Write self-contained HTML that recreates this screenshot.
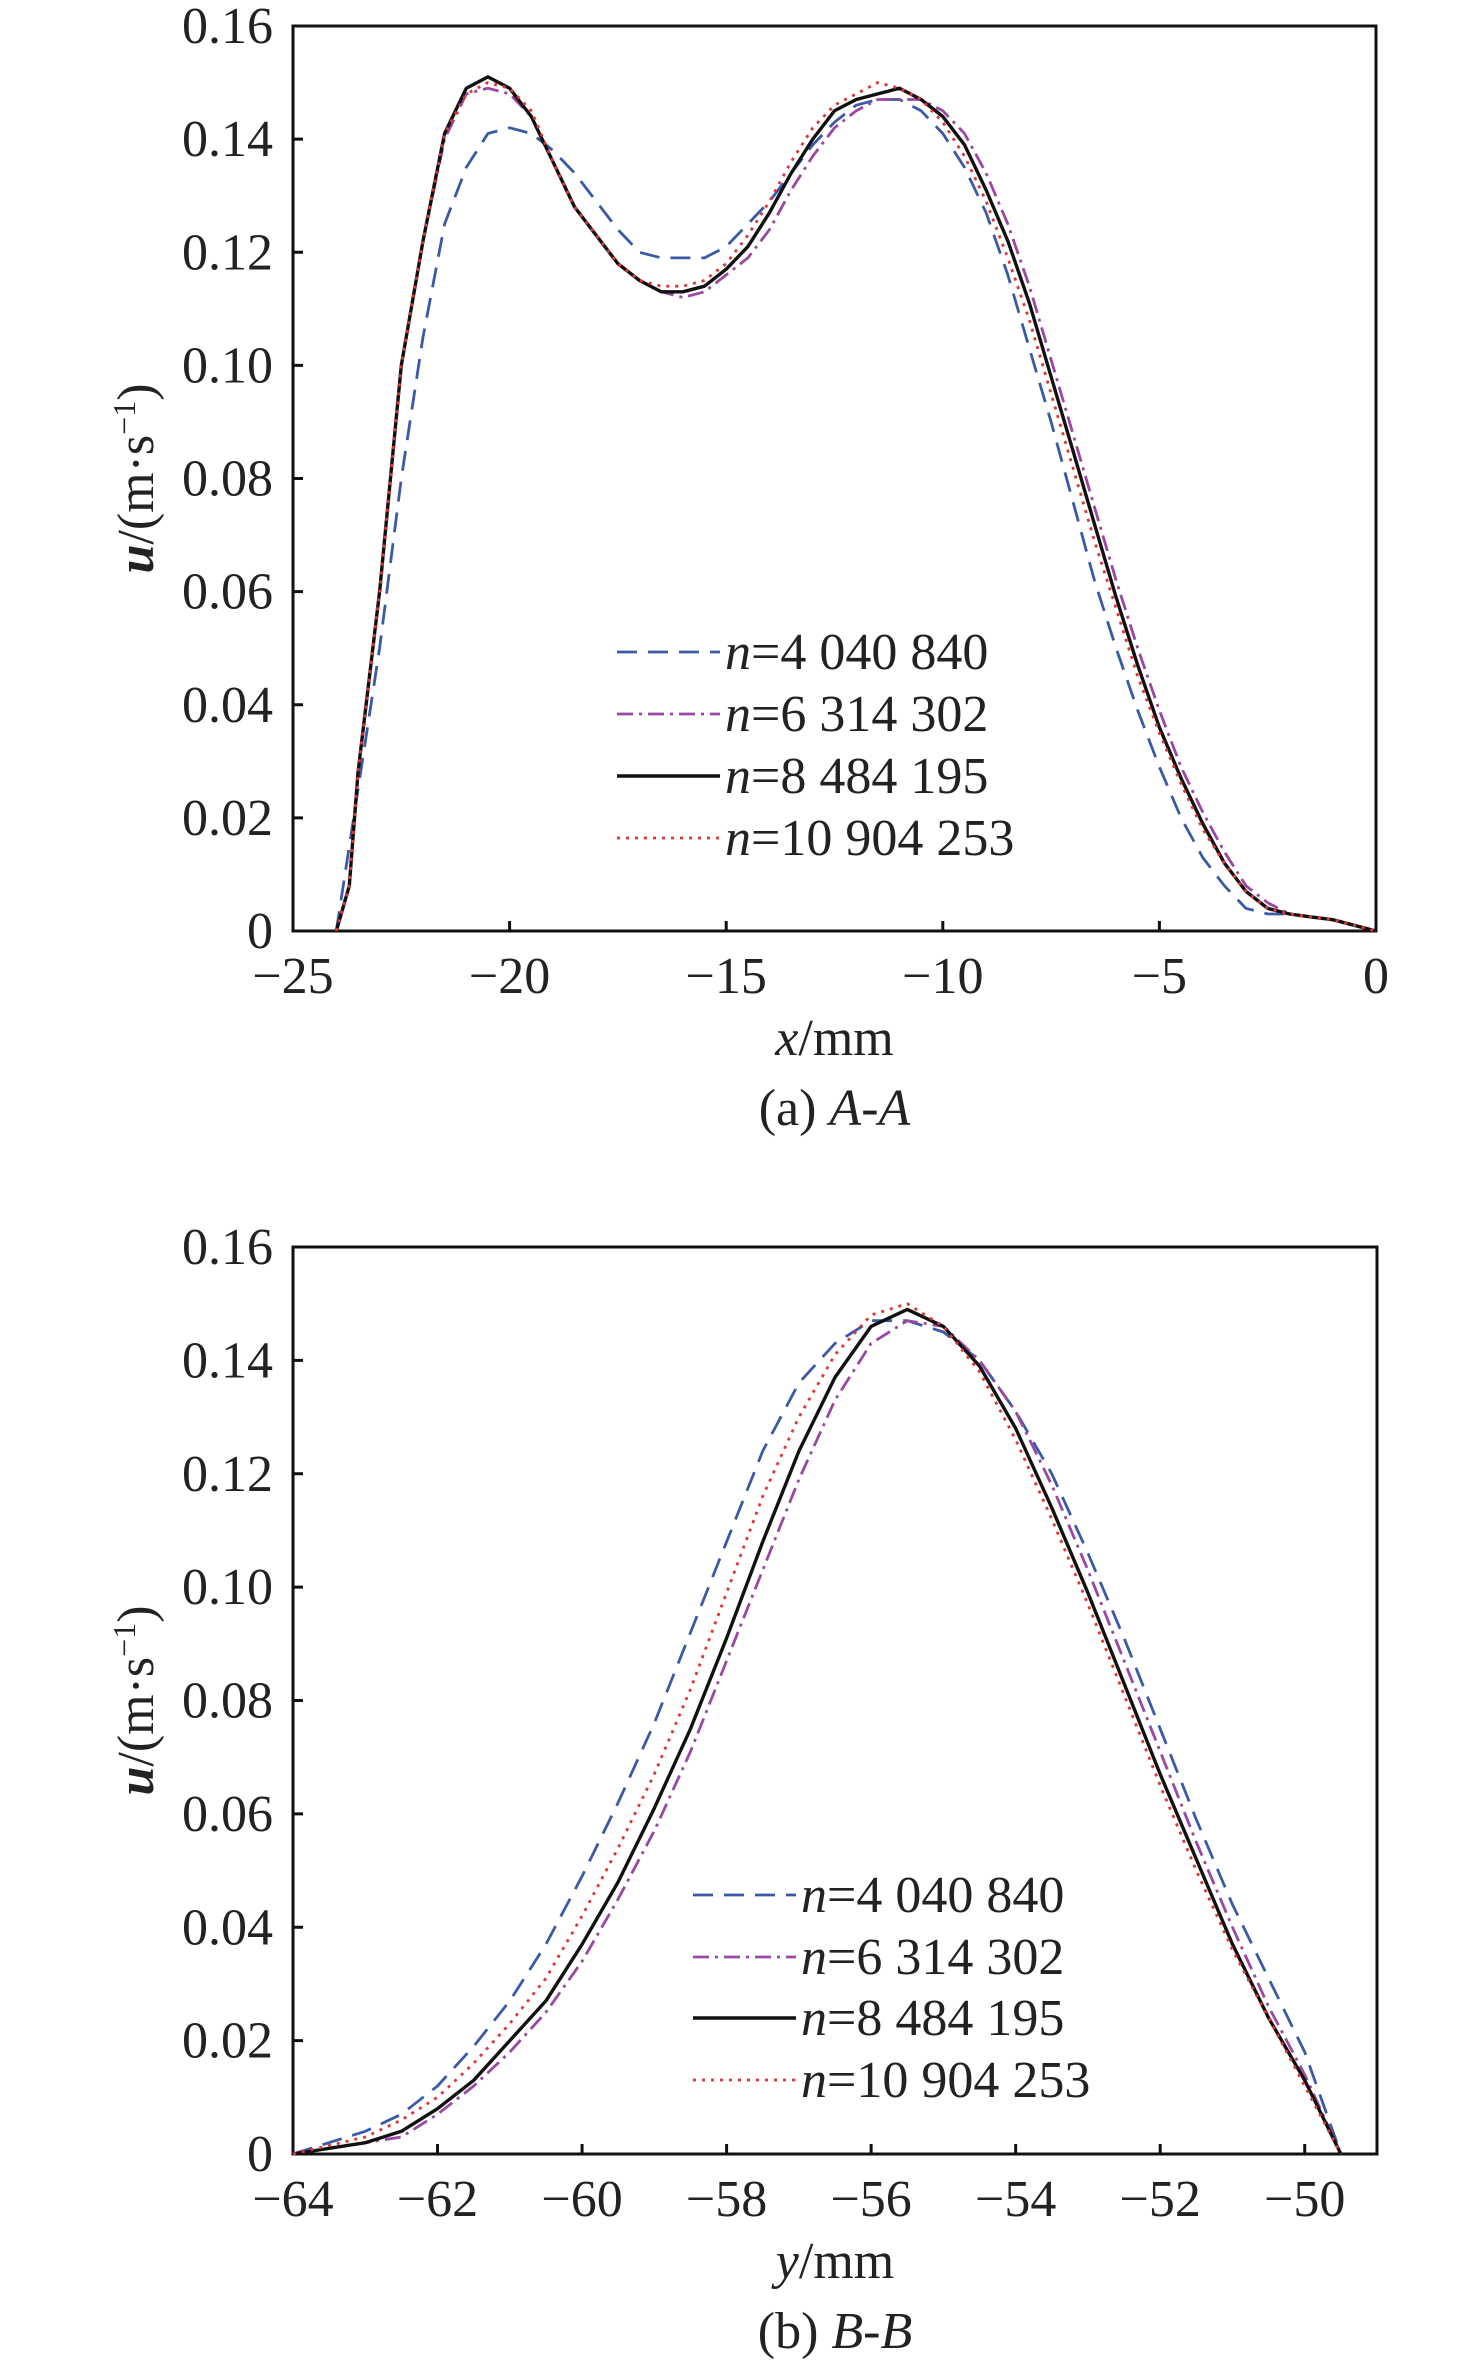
<!DOCTYPE html>
<html><head><meta charset="utf-8"><style>
html,body{margin:0;padding:0;background:#fff;}
svg{display:block;font-family:"Liberation Serif",serif;}
</style></head><body>
<svg id="chart" width="1476" height="2371" viewBox="0 0 1476 2371" xmlns="http://www.w3.org/2000/svg"></svg>
<script>
// ---- Panel A data ----
const aX_blue=[-24,-23.5,-23,-22.5,-22,-21.5,-21,-20.5,-20,-19.5,-19,-18.5,-18,-17.5,-17,-16.5,-16,-15.5,-15,-14.5,-14,-13.5,-13,-12.5,-12,-11.5,-11,-10.5,-10,-9.5,-9,-8.5,-8,-7.5,-7,-6.5,-6,-5.5,-5,-4.5,-4,-3.5,-3,-2.5,-2,-1,0];
const aU_blue=[0,0.025,0.05,0.08,0.105,0.125,0.135,0.141,0.142,0.141,0.138,0.134,0.129,0.124,0.12,0.119,0.119,0.119,0.121,0.125,0.129,0.134,0.139,0.143,0.146,0.147,0.147,0.145,0.141,0.135,0.127,0.116,0.103,0.09,0.076,0.062,0.05,0.039,0.029,0.02,0.013,0.008,0.004,0.003,0.003,0.002,0];
const aX=[-24,-23.7,-23.5,-23,-22.5,-22,-21.5,-21,-20.5,-20,-19.5,-19,-18.5,-18,-17.5,-17,-16.5,-16,-15.5,-15,-14.5,-14,-13.5,-13,-12.5,-12,-11.5,-11,-10.5,-10,-9.5,-9,-8.5,-8,-7.5,-7,-6.5,-6,-5.5,-5,-4.5,-4,-3.5,-3,-2.5,-2,-1.5,-1,-0.5,0];
const aU_purple=[0,0.008,0.028,0.06,0.1,0.122,0.14,0.148,0.149,0.148,0.144,0.136,0.128,0.123,0.118,0.115,0.113,0.112,0.113,0.116,0.119,0.124,0.131,0.137,0.142,0.145,0.147,0.147,0.147,0.145,0.141,0.134,0.125,0.114,0.101,0.088,0.075,0.062,0.05,0.039,0.029,0.021,0.014,0.008,0.005,0.003,0.0025,0.002,0.001,0];
const aU_black=[0,0.008,0.028,0.06,0.1,0.122,0.141,0.149,0.151,0.149,0.144,0.136,0.128,0.123,0.118,0.115,0.113,0.113,0.114,0.117,0.121,0.127,0.134,0.14,0.145,0.147,0.148,0.149,0.147,0.144,0.139,0.131,0.122,0.111,0.098,0.085,0.072,0.059,0.047,0.036,0.027,0.019,0.012,0.007,0.004,0.003,0.0025,0.002,0.001,0];
const aU_red=[0,0.008,0.028,0.06,0.1,0.122,0.141,0.148,0.15,0.149,0.145,0.136,0.128,0.123,0.118,0.115,0.114,0.114,0.115,0.118,0.123,0.129,0.136,0.142,0.146,0.148,0.15,0.149,0.147,0.143,0.137,0.129,0.119,0.108,0.095,0.082,0.069,0.057,0.045,0.035,0.026,0.018,0.012,0.007,0.004,0.003,0.0025,0.002,0.001,0];
// ---- Panel B data ----
const bX=[-64,-63,-62.5,-62,-61.5,-61,-60.5,-60,-59.5,-59,-58.5,-58,-57.5,-57,-56.5,-56,-55.5,-55,-54.5,-54,-53.5,-53,-52.5,-52,-51.5,-51,-50.5,-50,-49.5];
const bU_blue=[0,0.004,0.007,0.012,0.019,0.027,0.037,0.049,0.062,0.076,0.092,0.108,0.124,0.136,0.143,0.147,0.147,0.145,0.14,0.131,0.12,0.106,0.091,0.075,0.059,0.044,0.031,0.018,0];
const bU_purple=[0,0.002,0.003,0.007,0.012,0.018,0.025,0.034,0.045,0.057,0.071,0.087,0.103,0.119,0.133,0.143,0.147,0.146,0.14,0.131,0.118,0.103,0.087,0.071,0.055,0.04,0.026,0.014,0];
const bU_black=[0,0.002,0.004,0.008,0.013,0.02,0.027,0.037,0.048,0.061,0.075,0.091,0.108,0.124,0.137,0.146,0.149,0.146,0.139,0.128,0.114,0.099,0.083,0.067,0.052,0.037,0.024,0.013,0];
const bU_red=[0,0.003,0.006,0.01,0.016,0.023,0.031,0.042,0.054,0.067,0.082,0.099,0.116,0.13,0.141,0.148,0.15,0.146,0.138,0.126,0.112,0.097,0.081,0.065,0.05,0.036,0.024,0.012,0];
const yTicks=[0,0.02,0.04,0.06,0.08,0.10,0.12,0.14,0.16];
const yTickLabels=["0","0.02","0.04","0.06","0.08","0.10","0.12","0.14","0.16"];
const aXTicks=[-25,-20,-15,-10,-5,0];
const bXTicks=[-64,-62,-60,-58,-56,-54,-52,-50];
const legendLabels=["4 040 840","6 314 302","8 484 195","10 904 253"];

const NS="http://www.w3.org/2000/svg";
const svg=document.getElementById('chart');
function mk(tag,attrs,parent){const e=document.createElementNS(NS,tag);for(const k in attrs)e.setAttribute(k,attrs[k]);(parent||svg).appendChild(e);return e;}
const styles=[
 {stroke:"#3a5aa8",dash:"20 11",name:"blue-dashed"},
 {stroke:"#9a48a2",dash:"16 6 3 6",name:"purple-dashdot"},
 {stroke:"#111",dash:"",name:"black-solid"},
 {stroke:"#e03535",dash:"3 6",name:"red-dotted"}
];
function panel(p){
 const g=mk('g',{});
 
 
 const sx=v=>p.L+(v-p.x0)/(p.x1-p.x0)*(p.R-p.L);
 const sy=v=>p.B-(v/0.16)*(p.B-p.T);
 const fr=mk('rect',{x:p.L,y:p.T,width:p.R-p.L,height:p.B-p.T,fill:"none",stroke:"#111","stroke-width":3},g);
 
 
 yTicks.forEach((t,i)=>{
  const y=sy(t);
  const tk=mk('line',{x1:p.L,x2:p.L+10,y1:y,y2:y,stroke:"#111","stroke-width":3},g);
  
  
  const tx=mk('text',{x:p.L-20,y:y+17,"text-anchor":"end","font-size":52,fill:"#222"},g);
  tx.textContent=yTickLabels[i];
  
  
 });
 p.xt.forEach(t=>{
  const x=sx(t);
  const tk=mk('line',{x1:x,x2:x,y1:p.B,y2:p.B-10,stroke:"#111","stroke-width":3},g);
  
  
  const tx=mk('text',{x:x,y:p.B+62,"text-anchor":"middle","font-size":52,fill:"#222"},g);
  tx.textContent=(t<0?"\u2212"+(-t):String(t));
  
  
 });
 p.series.forEach((s,i)=>{
  const st=styles[i];
  const d=s.x.map((v,j)=>(j?"L":"M")+sx(v).toFixed(1)+","+sy(s.u[j]).toFixed(1)).join(" ");
  const path=mk('path',{d:d,fill:"none",stroke:st.stroke,"stroke-width":i===2?3.4:2.8,"stroke-dasharray":st.dash,"stroke-linejoin":"round"},g);
  
  
 });
 legendLabels.forEach((lab,i)=>{
  const y=p.legY[i];
  const st=styles[i];
  const ln=mk('line',{x1:p.legX,x2:p.legX+103,y1:y,y2:y,stroke:st.stroke,"stroke-width":i===2?3.4:2.8,"stroke-dasharray":st.dash},g);
  
  
  const tx=mk('text',{x:p.legX+108,y:y+17,"font-size":52,fill:"#222"},g);
  tx.innerHTML='<tspan font-style="italic">n</tspan>='+lab;
  
  
 });
 const yt=mk('text',{x:0,y:0,"font-size":52,fill:"#222","text-anchor":"middle",transform:`translate(${p.L-140},${(p.T+p.B)/2}) rotate(-90)`},g);
 yt.innerHTML='<tspan font-style="italic" font-weight="bold">u</tspan>/(m·s<tspan dy="-18" font-size="32">−1</tspan><tspan dy="18">)</tspan>';
 
 
 const xt=mk('text',{x:(p.L+p.R)/2,y:p.B+124,"font-size":52,fill:"#222","text-anchor":"middle"},g);
 xt.innerHTML='<tspan font-style="italic">'+p.xv+'</tspan>/mm';
 
 
 const cp=mk('text',{x:(p.L+p.R)/2,y:p.B+194,"font-size":52,fill:"#222","text-anchor":"middle"},g);
 cp.innerHTML=p.cap;
 
 
}
panel({id:"panel-a",L:293,R:1376,T:26,B:931,x0:-25,x1:0,xt:aXTicks,xv:"x",
 cap:'(a) <tspan font-style="italic">A</tspan>-<tspan font-style="italic">A</tspan>',
 legX:617,legY:[652,714,776,838],
 series:[{x:aX_blue,u:aU_blue},{x:aX,u:aU_purple},{x:aX,u:aU_black},{x:aX,u:aU_red}]});
panel({id:"panel-b",L:293,R:1377,T:1247,B:2154,x0:-64,x1:-49,xt:bXTicks,xv:"y",
 cap:'(b) <tspan font-style="italic">B</tspan>-<tspan font-style="italic">B</tspan>',
 legX:693,legY:[1895,1957,2018,2080],
 series:[{x:bX,u:bU_blue},{x:bX,u:bU_purple},{x:bX,u:bU_black},{x:bX,u:bU_red}]});
</script>
</body></html>
